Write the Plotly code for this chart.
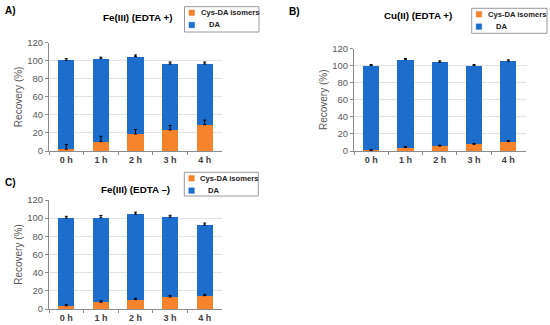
import plotly.graph_objects as go

categories = ["0 h", "1 h", "2 h", "3 h", "4 h"]

# Panel A: Fe(III) (EDTA +)
a_cys = [2, 10.3, 18.8, 23.3, 29.2]
a_cys_err = [5, 6, 5, 5, 5]
a_total = [100.5, 102.3, 104.5, 96.4, 96.4]
a_total_err = [1.8, 1.7, 1.9, 2.2, 2.2]

# Panel B: Cu(II) (EDTA +)
b_cys = [0.6, 4.0, 5.8, 7.8, 11.0]
b_cys_err = [1.0, 1.2, 1.0, 1.0, 1.2]
b_total = [100, 107, 104, 100, 105.2]
b_total_err = [1.2, 1.2, 1.5, 1.2, 1.5]

# Panel C: Fe(III) (EDTA –)
c_cys = [3.5, 7.4, 10.3, 13.2, 14.7]
c_cys_err = [1.5, 1.5, 1.5, 1.5, 1.5]
c_total = [100, 100.5, 104.4, 101.2, 92.4]
c_total_err = [2.0, 2.5, 2.2, 2.0, 2.2]

series_names = ["Cys-DA isomers", "DA"]

ORANGE = "#f5832c"
BLUE = "#1d6dcd"
FONT = "Liberation Sans, Arial, sans-serif"

panels = [
    ("x", "y", a_cys, a_cys_err, a_total, a_total_err),
    ("x2", "y2", b_cys, b_cys_err, b_total, b_total_err),
    ("x3", "y3", c_cys, c_cys_err, c_total, c_total_err),
]

fig = go.Figure()
for xa, ya, cys, cys_err, total, total_err in panels:
    da = [t - c for t, c in zip(total, cys)]
    fig.add_trace(go.Bar(x=categories, y=cys, name=series_names[0], marker_color=ORANGE,
                         marker_line_width=0, xaxis=xa, yaxis=ya, showlegend=False))
    fig.add_trace(go.Bar(x=categories, y=da, name=series_names[1], marker_color=BLUE,
                         marker_line_width=0, xaxis=xa, yaxis=ya, showlegend=False))
    # error bars drawn on top of the stacked bars
    for yv, ev in ((cys, cys_err), (total, total_err)):
        fig.add_trace(go.Scatter(
            x=categories, y=yv, mode="markers", marker=dict(size=1, opacity=0),
            xaxis=xa, yaxis=ya, showlegend=False, hoverinfo="skip",
            error_y=dict(type="data", array=ev, arrayminus=[0] * 5, symmetric=False,
                         color="black", thickness=1, width=1.5),
        ))

W, H = 550, 325
def xd(a, b):
    return [a / W, b / W]
def yd(top, bottom):
    return [1 - bottom / H, 1 - top / H]

xaxis_common = dict(
    showline=True, linecolor="#8c8c8c", linewidth=1,
    ticks="outside", tickson="boundaries", ticklen=3, tickcolor="#8c8c8c",
    tickfont=dict(family=FONT, size=9, color="#404040", weight="bold"),
    showgrid=False, fixedrange=True,
)
yaxis_common = dict(
    range=[0, 120], dtick=20, showline=True, linecolor="#8c8c8c", linewidth=1,
    ticks="outside", ticklen=3, tickcolor="#8c8c8c",
    tickfont=dict(family=FONT, size=9.5, color="#595959"),
    showgrid=True, gridcolor="#e3e3e3", gridwidth=1, zeroline=False,
    title=dict(text="Recovery (%)", font=dict(family=FONT, size=10, color="#595959"), standoff=2),
)

fig.update_layout(
    width=W, height=H, margin=dict(l=0, r=0, t=0, b=0, autoexpand=False),
    paper_bgcolor="white", plot_bgcolor="white",
    barmode="stack", bargap=0.53, showlegend=False,
    font=dict(family=FONT),
    xaxis=dict(domain=xd(49, 222), anchor="y", **xaxis_common),
    yaxis=dict(domain=yd(42.7, 151), anchor="x", **yaxis_common),
    xaxis2=dict(domain=xd(354, 525.5), anchor="y2", **xaxis_common),
    yaxis2=dict(domain=yd(48.5, 151), anchor="x2", **yaxis_common),
    xaxis3=dict(domain=xd(49, 222), anchor="y3", **xaxis_common),
    yaxis3=dict(domain=yd(200, 309), anchor="x3", **yaxis_common),
)

def px(x):
    return x / W
def py(y):
    return 1 - y / H

# hand-drawn legends (one per panel)
legend_boxes = [(184.5, 6.7, 259, 32), (471.7, 8.3, 547, 33.3), (184.3, 172.3, 258.3, 196)]
for (l, t, r, b) in legend_boxes:
    fig.add_shape(type="rect", xref="paper", yref="paper", x0=px(l), x1=px(r), y0=py(b), y1=py(t),
                  line=dict(color="#9a9a9a", width=1), fillcolor="white", layer="above")
    for i, (name, col) in enumerate(zip(series_names, [ORANGE, BLUE])):
        cy = t + 6 + i * 12.3
        fig.add_shape(type="rect", xref="paper", yref="paper",
                      x0=px(l + 4.5), x1=px(l + 10), y0=py(cy + 2.75), y1=py(cy - 2.75),
                      line=dict(color=col, width=0.5), fillcolor=col, layer="above")
        fig.add_annotation(text=name, x=px(l + (14 if i == 0 else 22)), y=py(cy),
                           xref="paper", yref="paper", xanchor="left", yanchor="middle",
                           showarrow=False,
                           font=dict(family=FONT, size=7.6, color="#222", weight="bold"))

labels = [("A)", 3, 10), ("B)", 287, 11), ("C)", 3, 183)]
for t, x, y in labels:
    fig.add_annotation(text=t, x=px(x), y=py(y), xref="paper", yref="paper",
                       xanchor="left", yanchor="middle", showarrow=False,
                       font=dict(family=FONT, size=10, color="black", weight="bold"))

titles = [("Fe(III) (EDTA +)", 137.5, 18), ("Cu(II) (EDTA +)", 418, 16),
          ("Fe(III) (EDTA \u2013)", 135.5, 189)]
for t, x, y in titles:
    fig.add_annotation(text=t, x=px(x), y=py(y), xref="paper", yref="paper",
                       xanchor="center", yanchor="middle", showarrow=False,
                       font=dict(family=FONT, size=9.8, color="black", weight="bold"))

fig.write_html("out.html", config={"responsive": False, "displayModeBar": False},
               post_script="document.body.style.margin='0';document.body.style.overflow='hidden';")
